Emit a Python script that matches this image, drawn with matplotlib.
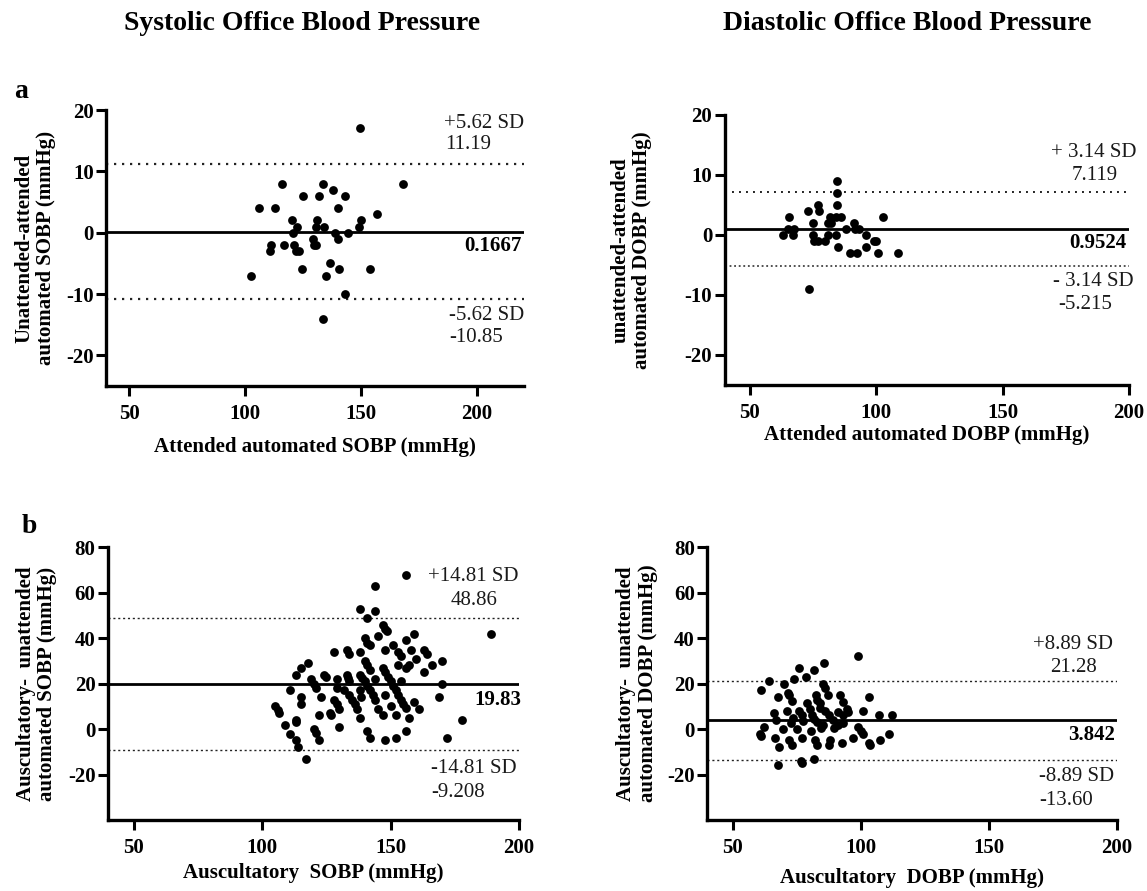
"""Bland-Altman plots, office blood pressure
"""
import matplotlib
matplotlib.use('Agg')
import matplotlib.pyplot as plt

plt.rcParams['font.family'] = ['Liberation Serif', 'DejaVu Serif']
plt.rcParams['axes.unicode_minus'] = False

# ---- panel a, systolic: attended automated vs (unattended - attended)
a_sys_x = [149.5, 168, 116, 133.5, 138, 125, 132, 143, 106, 113, 140, 157, 120, 131, 150,
           122.5, 130.5, 134, 149, 120.5, 138.5, 144.5, 140, 129, 111, 116.5, 121, 129.5,
           130.5, 110.5, 122, 123, 136.5, 102.5, 124.5, 140.5, 154, 135, 143, 133.5]
a_sys_y = [17, 8, 8, 8, 7, 6, 6, 6, 4, 4, 4, 3, 2, 2, 2, 1, 1, 1, 1, 0, 0, 0, -1, -1,
           -2, -2, -2, -2, -2, -3, -3, -3, -5, -7, -6, -6, -6, -7, -10, -14]

# ---- panel a, diastolic
a_dia_x = [84.5, 84.5, 84.5, 84, 86, 65.5, 73, 77, 77.5, 102.5, 75, 81.5, 81, 91, 63, 65,
           67.5, 67, 75, 84, 88, 91.5, 93, 96, 75.5, 77, 79.5, 99, 100, 85, 96, 89.5,
           92.5, 100.5, 108.5, 73.5, 82, 81]
a_dia_y = [9, 7, 5, 3, 3, 3, 4, 5, 4, 3, 2, 3, 2, 2, 0, 1, 1, 0, 0, 0, 1, 1, 1, 0, -1,
           -1, -1, -1, -1, -2, -2, -3, -3, -3, -3, -9, 2, 0]

# ---- panel b, systolic: auscultatory vs (auscultatory - unattended)
b_sys_x = [156, 144, 138, 144, 141, 147, 148, 148.5, 189, 159, 145, 140, 141, 142, 156,
           151, 153, 154, 148, 158, 163, 164, 160, 138, 128, 133, 134, 140, 141, 142, 153,
           156, 163, 166, 170, 170, 169, 178, 172, 118, 115, 113, 111, 115, 115, 105, 106,
           106.5, 109, 113, 113, 111, 113, 114, 117, 120, 121, 122, 122, 123, 119, 120, 121,
           124, 125, 129, 130, 127, 126.5, 128, 129, 130, 129, 133, 133.5, 134, 132, 134,
           135, 136, 137, 138, 138, 138.5, 138, 139, 140, 141, 142, 143, 144, 144, 145, 147,
           141, 142, 148, 147, 148, 149, 150, 151, 152, 153, 154, 155, 156, 148, 150, 152,
           152, 156, 154, 157, 157, 159, 161]
b_sys_y = [68, 63, 53, 52, 49, 46, 44, 43, 42, 42, 41, 40, 38, 37, 39, 37, 34, 32, 35, 35,
           35, 33, 31, 34, 34, 35, 33, 30, 28, 26, 28, 27, 25, 28, 30, 20, 14, 4, -4, 29,
           27, 24, 17, 14, 11, 10, 8.5, 7, 2, 4, 3, -2, -5, -8, -13, 0, -1.5, -5, 6, 14, 22,
           20, 18, 24, 23, 22, 1, 6, 7, 13, 11, 9, 18, 24, 22.5, 21, 17, 15, 13, 11, 9, 5,
           17, 14, 24, 22.5, 21, 19, 17, 15, 13, 22, 9, 6, -1, -4, -5, 27, 25, 23, 21, 19,
           17, 15, 13, 11, 9.5, 15, 10, 6, -4, -1, 21, 28, 5, 12, 9]

# ---- panel b, diastolic
b_dia_x = [99, 85.5, 76, 81.5, 78.5, 74, 64, 70, 85, 86, 61, 71.5, 72, 87, 92, 67.5, 103,
           73, 82.5, 83, 93, 79, 84, 94.5, 95, 80, 84, 86, 91, 66, 71, 76, 101, 107, 112,
           67, 73.5, 77, 81, 81.5, 87.5, 89, 93, 93, 72.5, 77.5, 83, 85, 62, 69.5, 75,
           80.5, 84.5, 89.5, 99, 100, 60.5, 61, 66.5, 72, 77, 82, 83, 87.5, 88, 92.5, 97,
           101, 103, 103.5, 107.5, 111, 68, 73, 67.5, 76.5, 77, 81.5, 91]
b_dia_y = [32, 29, 27, 26, 23, 22, 21, 20, 20, 18, 17, 16, 15, 15, 15, 14, 14, 12.5, 15,
           13, 12, 11.5, 11.5, 9, 7.5, 9, 9.5, 8, 7.5, 7, 8, 8, 8, 6, 6, 4, 5, 6, 6, 4.5,
           6, 4, 6, 2.5, 2.5, 3.5, 3, 2, 1, 0, 0, -1, 0.5, 0.5, 1, -1, -2, -3, -4, -5, -4,
           -5, -7, -7, -5, -6, -4, -2, -6, -7, -5, -2, -8, -7, -16, -14, -15, -13, 2]

# ---- bias and limits of agreement
bias = [0.1667, 0.9524, 19.83, 3.842]
upper_loa = [11.19, 7.119, 48.86, 21.28]
lower_loa = [-10.85, -5.215, -9.208, -13.60]

upper_sd_txt = ['+5.62 SD', '+ 3.14 SD', '+14.81 SD', '+8.89 SD']
lower_sd_txt = ['-5.62 SD', '- 3.14 SD', '-14.81 SD', '-8.89 SD']
upper_val_txt = ['11.19', '7.119', '48.86', '21.28']
lower_val_txt = ['-10.85', '-5.215', '-9.208', '-13.60']
bias_txt = ['0.1667', '0.9524', '19.83', '3.842']

x_labels = ['Attended automated SOBP (mmHg)', 'Attended automated DOBP (mmHg)',
            'Auscultatory  SOBP (mmHg)', 'Auscultatory  DOBP (mmHg)']
y_labels = ['Unattended-attended\nautomated SOBP (mmHg)',
            'unattended-attended\nautomated DOBP (mmHg)',
            'Auscultatory-  unattended\nautomated SOBP (mmHg)',
            'Auscultatory-  unattended\nautomated DOBP (mmHg)']

W, H = 1147, 891
FS = 15


def px_axes(fig, left, right, top, bottom):
    return fig.add_axes([left / W, 1 - bottom / H, (right - left) / W, (bottom - top) / H])


def draw_panel(ax, i, x, y, xlim, ylim, yticks, txt_pos, dots, label_pos):
    ax.scatter(x, y, s=40, color='black', zorder=3, linewidths=0)
    ax.axhline(bias[i], color='black', lw=2.0, zorder=2)
    ax.axhline(upper_loa[i], color='#222222', lw=dots[0][0], linestyle=dots[0][1], zorder=1)
    ax.axhline(lower_loa[i], color='#222222', lw=dots[1][0], linestyle=dots[1][1], zorder=1)

    ax.set_xlim(*xlim)
    ax.set_ylim(*ylim)
    ax.set_xticks([50, 100, 150, 200])
    ax.set_yticks(yticks)
    ax.spines['top'].set_visible(False)
    ax.spines['right'].set_visible(False)
    ax.spines['left'].set_linewidth(2.4)
    ax.spines['bottom'].set_linewidth(2.4)
    ax.tick_params(axis='both', width=2.2, length=7, labelsize=FS, direction='out')
    ax.tick_params(axis='y', pad=2)
    ax.tick_params(axis='x', pad=6)
    for lab in ax.get_xticklabels() + ax.get_yticklabels():
        lab.set_fontweight('bold')

    ax.set_xlabel(x_labels[i], fontsize=FS, fontweight='bold')
    ax.set_ylabel(y_labels[i], fontsize=FS, fontweight='bold', linespacing=1.1)
    ax.xaxis.set_label_coords(0.5, label_pos[0])
    ax.yaxis.set_label_coords(label_pos[1], 0.5)

    tc = '#1a1a1a'
    (ux, uy), (uvx, uvy), (bx, by), (lx, ly), (lvx, lvy) = txt_pos
    ax.text(ux, uy, upper_sd_txt[i], fontsize=FS, color=tc, va='center', ha='left', clip_on=False)
    ax.text(uvx, uvy, upper_val_txt[i], fontsize=FS, color=tc, va='center', ha='left', clip_on=False)
    ax.text(bx, by, bias_txt[i], fontsize=FS, fontweight='bold', color='black', va='center',
            ha='right', clip_on=False)
    ax.text(lx, ly, lower_sd_txt[i], fontsize=FS, color=tc, va='center', ha='left', clip_on=False)
    ax.text(lvx, lvy, lower_val_txt[i], fontsize=FS, color=tc, va='center', ha='left', clip_on=False)


def main():
    fig = plt.figure(figsize=(W / 100, H / 100), dpi=100)

    ax1 = px_axes(fig, 106.2, 523.5, 110, 386)
    ax2 = px_axes(fig, 724.7, 1129, 115, 385)
    ax3 = px_axes(fig, 108, 519, 547.3, 820)
    ax4 = px_axes(fig, 707.3, 1117, 547.3, 820)

    draw_panel(ax1, 0, a_sys_x, a_sys_y, (40, 220), (-25, 20), [-20, -10, 0, 10, 20],
               [(185.7, 17.8), (186, 14.3), (219.4, -2.2), (187.8, -13.5), (187.8, -17.1)],
               [(1.6, (0, (1, 2.6))), (1.6, (0, (1, 2.6)))], (-0.184, -0.121))
    draw_panel(ax2, 1, a_dia_x, a_dia_y, (40, 200), (-25, 20), [-20, -10, 0, 10, 20],
               [(169.3, 13.7), (177.2, 9.9), (199.1, -1.3), (170, -7.75), (172.1, -11.6)],
               [(1.4, (0, (1, 2.6))), (1.1, (0, (1.2, 1.8)))], (-0.148, -0.179))
    draw_panel(ax3, 2, b_sys_x, b_sys_y, (40, 200), (-40, 80), [-20, 0, 20, 40, 60, 80],
               [(164.5, 67), (173.2, 56.8), (201, 12.9), (165.9, -17.5), (165.9, -27.8)],
               [(1.0, (0, (1.5, 2))), (1.0, (0, (1.5, 2)))], (-0.158, -0.123))
    draw_panel(ax4, 3, b_dia_x, b_dia_y, (40, 200), (-40, 80), [-20, 0, 20, 40, 60, 80],
               [(167.3, 37.3), (173.8, 27), (199.3, -2.5), (169.5, -21), (169.5, -31.3)],
               [(1.0, (0, (1.5, 2))), (1.0, (0, (1.5, 2)))], (-0.176, -0.121))

    fig.text(302 / W, 1 - 24 / H, 'Systolic Office Blood Pressure', fontsize=20,
             fontweight='bold', ha='center', va='center')
    fig.text(907 / W, 1 - 24 / H, 'Diastolic Office Blood Pressure', fontsize=20,
             fontweight='bold', ha='center', va='center')
    fig.text(14 / W, 1 - 98 / H, 'a', fontsize=20, fontweight='bold', ha='left', va='baseline')
    fig.text(22 / W, 1 - 533 / H, 'b', fontsize=20, fontweight='bold', ha='left', va='baseline')

    fig.savefig('out.png', dpi=100)
    plt.close(fig)


if __name__ == '__main__':
    main()
